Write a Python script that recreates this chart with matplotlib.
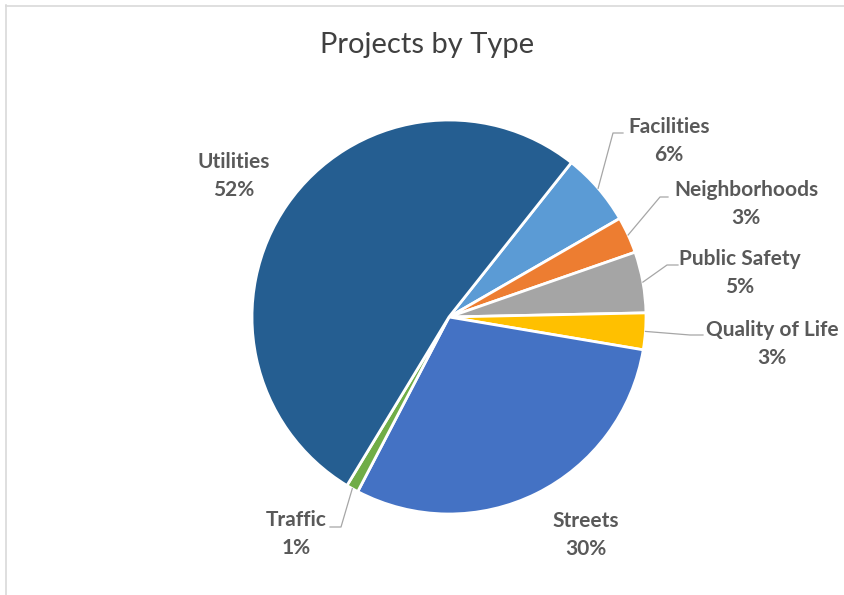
import numpy as np
import matplotlib
matplotlib.use("Agg")
import matplotlib.pyplot as plt
from matplotlib.lines import Line2D

# data (alphabetical, as in the source sheet)
categories = ["Facilities", "Neighborhoods", "Public Safety", "Quality of Life",
              "Streets", "Traffic", "Utilities"]
shares = [6, 3, 5, 3, 30, 1, 52]
colors = ["#5B9BD5", "#ED7D31", "#A5A5A5", "#FFC000",
          "#4472C4", "#70AD47", "#255E91"]

W, H = 845, 595
CX, CY, R = 449, 317, 197  # pie centre / radius in pixels


def px(x, y):
    """pixel position -> data coords of the pie axes"""
    return (x - CX) / R, (CY - y) / R


# label block centres and leader elbows (pixels), None = no leader
label_pos = [(669, 141), (746, 204), (740, 273), (772, 344),
             (586, 535), (296, 534), (234, 176)]
leaders = [((613, 133), (623, 133)), ((660, 197), (668, 197)),
           ((667, 265), (678, 265)), ((690, 335), (703, 335)),
           None, ((341, 527), (330, 527)), None]

plt.rcParams["font.family"] = ["Lato", "DejaVu Sans"]

fig = plt.figure(figsize=(W / 100, H / 100), dpi=100)
ax = fig.add_axes([(CX - R) / W, 1 - (CY + R) / H, 2 * R / W, 2 * R / H])

wedges, _ = ax.pie(
    shares,
    colors=colors,
    startangle=90 - 38.4,
    counterclock=False,
    radius=1,
    wedgeprops=dict(edgecolor="white", linewidth=2.0),
)
# pie() pads the limits, pin them back so radius 1 fills the axes box
ax.set_xlim(-1, 1)
ax.set_ylim(-1, 1)
ax.set_aspect("equal")
ax.axis("off")

total = sum(shares)
for w, name, val, pos, lead in zip(wedges, categories, shares, label_pos, leaders):
    tx, ty = px(*pos)
    ax.text(tx, ty, f"{name}\n{round(100 * val / total)}%", ha="center", va="center",
            fontsize=15, fontweight="bold", color="#595959", linespacing=1.5,
            clip_on=False)
    if lead is None:
        continue
    mid = np.deg2rad((w.theta1 + w.theta2) / 2)
    x0, y0 = np.cos(mid), np.sin(mid)
    (ex, ey), (fx, fy) = px(*lead[0]), px(*lead[1])
    ax.plot([x0, ex, fx], [y0, ey, fy], color="#A6A6A6", linewidth=0.9,
            clip_on=False)

fig.text(427 / W, 1 - 45 / H, "Projects by Type", ha="center", va="center",
         fontsize=21, color="#404040")

# chart area border (cut off at right and bottom)
fig.add_artist(Line2D([6.5 / W, 6.5 / W], [1 - 5 / H, 0], color="#D9D9D9",
                      linewidth=1.2, transform=fig.transFigure))
fig.add_artist(Line2D([6.5 / W, 1], [1 - 5.5 / H, 1 - 5.5 / H], color="#D9D9D9",
                      linewidth=1.2, transform=fig.transFigure))

fig.savefig("out.png", dpi=100)
